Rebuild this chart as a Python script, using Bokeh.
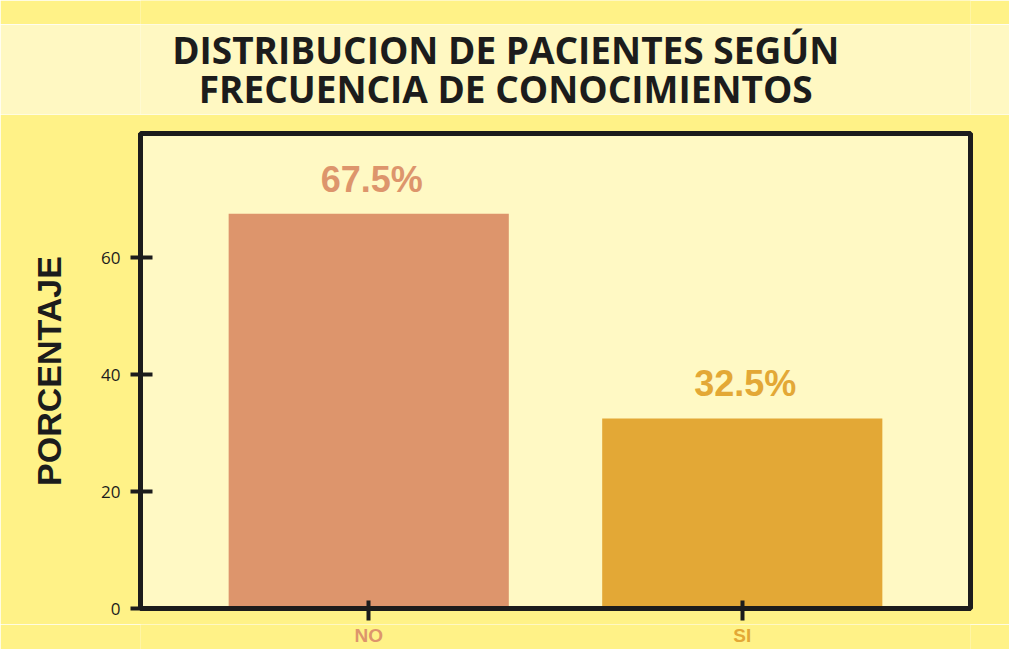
from bokeh.plotting import figure
from bokeh.layouts import column
from bokeh.models import (ColumnDataSource, FactorRange, Range1d, LabelSet, Label, FixedTicker,
                          CustomLabelingPolicy)
from bokeh.core.properties import value
from bokeh.embed import file_html
from bokeh.resources import INLINE

# ---- data ----
categories = ["NO", "SI"]
percentages = [67.5, 32.5]
value_labels = ["67.5%", "32.5%"]
y_ticks = [0, 20, 40, 60]
title_lines = ["DISTRIBUCION DE PACIENTES SEGÚN", "FRECUENCIA DE CONOCIMIENTOS"]
y_axis_title = "PORCENTAJE"

# ---- style ----
OUTER = "#fff287"
BAND = "#fff8c2"
PLOT_BG = "#fff9c4"
BAR_COLORS = ["#dd956c", "#e3a836"]
INK = "#1c1c1c"


def blank(h, fill, x_range=None):
    f = figure(width=1009, height=h, x_range=x_range or Range1d(0, 1), y_range=Range1d(0, 1),
               toolbar_location=None, output_backend="svg",
               x_axis_location=None, y_axis_location=None, min_border=0,
               border_fill_color=fill, background_fill_color=fill, outline_line_color=None)
    f.grid.visible = False
    return f


# ---- top strip and title band ----
strip = blank(24, OUTER)
header = blank(90, BAND)
for txt, yy in zip(title_lines, [0.725, 0.285]):
    header.add_layout(Label(x=0.44, y=yy, text=txt, text_align="center", text_baseline="middle",
                            text_font="Open Sans", text_font_style="bold",
                            text_font_size="37px", text_color=INK))

# ---- main chart ----
src = ColumnDataSource(dict(cat=categories, val=percentages, lbl=value_labels, color=BAR_COLORS))
x_range = FactorRange(*categories, range_padding=0.111)

p = figure(width=1009, height=510, x_range=x_range,
           y_range=Range1d(0, 81.2), toolbar_location=None, output_backend="svg",
           min_border=0, min_border_top=19, min_border_left=140, min_border_right=39,
           min_border_bottom=13,
           border_fill_color=OUTER, background_fill_color=PLOT_BG,
           outline_line_color=INK, outline_line_width=5)
p.grid.visible = False

p.vbar(x="cat", top="val", width=0.75, source=src, fill_color="color", line_color=None)

p.add_layout(LabelSet(x="cat", y="val", text="lbl", source=src, text_color="color",
                      text_align="center", text_baseline="alphabetic", y_offset=22, x_offset=3,
                      text_font=value("Liberation Sans"), text_font_style="bold",
                      text_font_size="36px"))

for ax in (p.xaxis[0], p.yaxis[0]):
    ax.axis_line_color = INK
    ax.axis_line_width = 5
    ax.major_tick_line_color = INK
    ax.major_tick_line_width = 4
    ax.minor_tick_line_color = None

# x axis: ticks only; the coloured category names are drawn in the strip below
p.xaxis.major_tick_in = 8
p.xaxis.major_tick_out = 12
p.xaxis.major_label_standoff = 0
p.xaxis.major_label_text_font_size = "1px"
p.xaxis.major_label_policy = CustomLabelingPolicy(code="return new Set()")

p.yaxis.ticker = FixedTicker(ticks=y_ticks)
p.yaxis.major_tick_in = 12
p.yaxis.major_tick_out = 10
p.yaxis.major_label_standoff = 10
p.yaxis.major_label_text_font = "Open Sans"
p.yaxis.major_label_text_font_size = "17px"
p.yaxis.major_label_text_color = INK
p.yaxis.axis_label = y_axis_title
p.yaxis.axis_label_text_font = "Liberation Sans"
p.yaxis.axis_label_text_font_style = "bold"
p.yaxis.axis_label_text_font_size = "34px"
p.yaxis.axis_label_text_color = INK
p.yaxis.axis_label_standoff = 30

# ---- category labels strip (shares the x range) ----
cat_fig = blank(25, OUTER, x_range=x_range)
cat_fig.text(x="cat", y=0.55, text="cat", source=src, text_color="color",
             text_align="center", text_baseline="middle",
             text_font=value("Liberation Sans"), text_font_style="bold", text_font_size="19px")

layout = column(strip, header, p, cat_fig, spacing=0)
open("out.html", "w").write(file_html(layout, INLINE))
